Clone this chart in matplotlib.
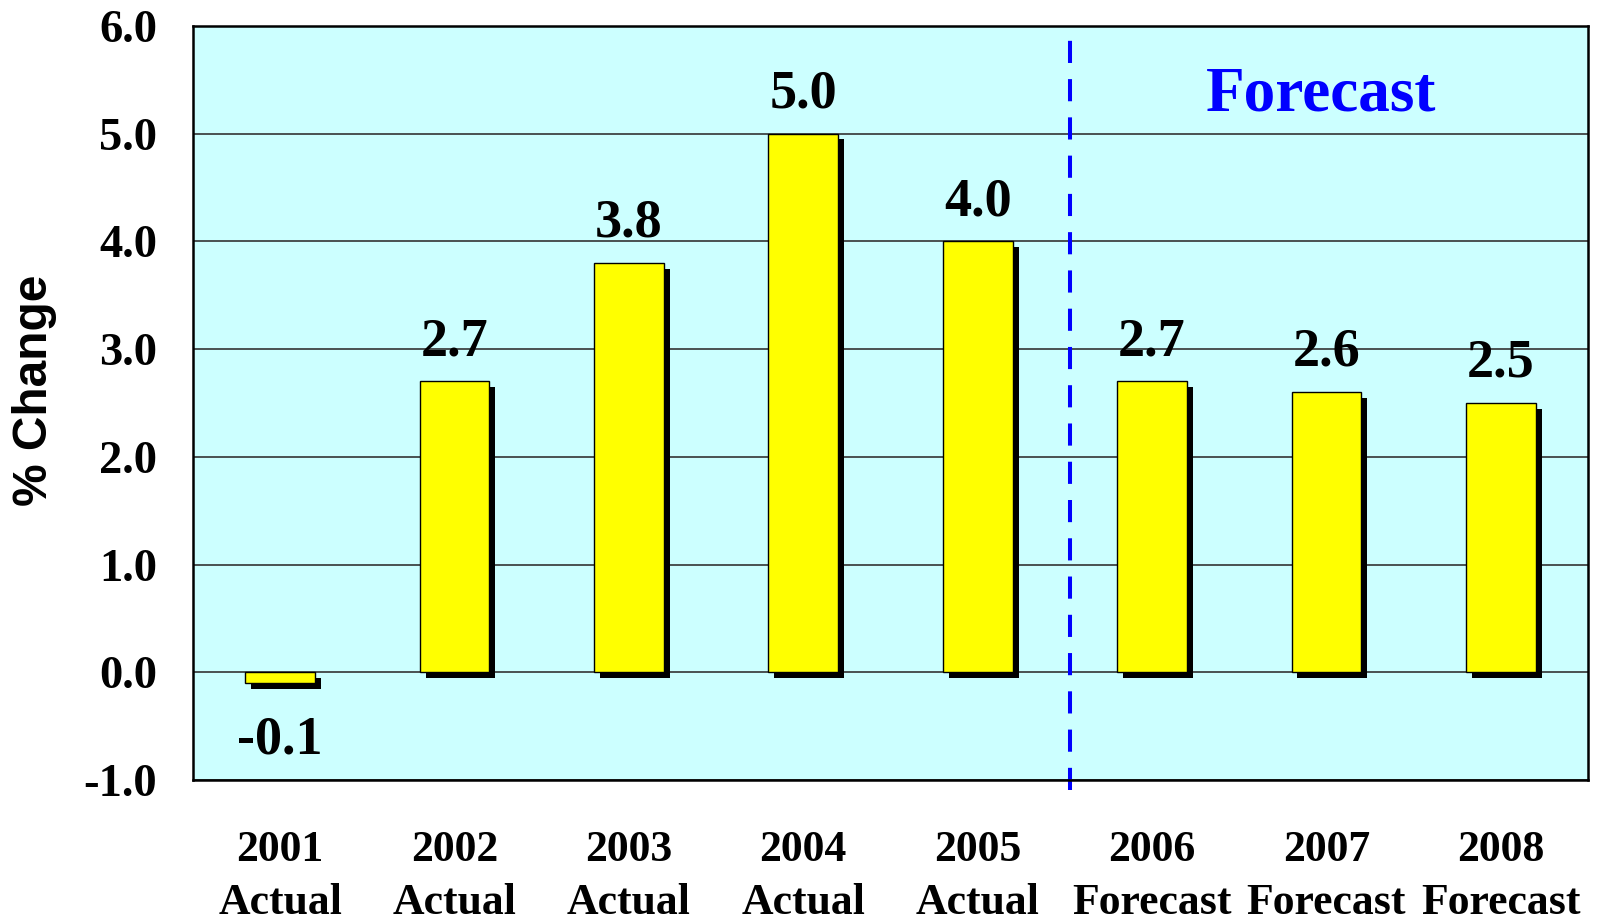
import matplotlib
matplotlib.use("Agg")
import matplotlib.pyplot as plt
import matplotlib.patheffects as pe

years = ["2001", "2002", "2003", "2004", "2005", "2006", "2007", "2008"]
kinds = ["Actual"] * 5 + ["Forecast"] * 3
values = [-0.1, 2.7, 3.8, 5.0, 4.0, 2.7, 2.6, 2.5]
yticks = [-1.0, 0.0, 1.0, 2.0, 3.0, 4.0, 5.0, 6.0]

serif = "Liberation Serif"

fig = plt.figure(figsize=(15.98, 9.23), dpi=100)
ax = fig.add_axes([0.1208, 0.1549, 0.8729, 0.8169])
ax.set_facecolor("#CCFFFF")

x = list(range(len(years)))
bars = ax.bar(x, values, width=0.40, color="#FFFF00", edgecolor="black",
              linewidth=1.0, zorder=3)
for b in bars:
    b.set_path_effects([pe.SimplePatchShadow(offset=(4.3, -4), shadow_rgbFace="black", alpha=1.0),
                        pe.Normal()])

# value labels above / below each bar
for xi, v in zip(x, values):
    if v >= 0:
        ax.annotate(f"{v:.1f}", (xi, v), xytext=(0, 19), textcoords="offset points",
                    ha="center", va="baseline", fontsize=39, fontweight="bold",
                    family=serif, zorder=5)
    else:
        ax.annotate(f"{v:.1f}", (xi, v), xytext=(0, -23), textcoords="offset points",
                    ha="center", va="top", fontsize=39, fontweight="bold",
                    family=serif, zorder=5)

ax.set_xlim(-0.5, len(years) - 0.5)
ax.set_ylim(-1.0, 6.0)

ax.set_yticks(yticks)
ax.set_yticklabels([f"{t:.1f}" for t in yticks], fontsize=33.5, fontweight="bold", family=serif)
ax.set_xticks(x)
ax.set_xticklabels([f"{y}\n{k}" for y, k in zip(years, kinds)], fontsize=31.5,
                   fontweight="bold", family=serif, linespacing=1.42)
ax.tick_params(axis="y", length=0, pad=26)
ax.tick_params(axis="x", length=0, pad=36)

ax.grid(axis="y", color="#333333", linewidth=1.2, zorder=1)
ax.set_axisbelow(True)
for s in ax.spines.values():
    s.set_linewidth(1.8)
    s.set_color("black")
    s.set_zorder(6)

ax.set_ylabel("% Change", fontsize=34.5, fontweight="bold", family="Liberation Sans")
ax.yaxis.set_label_coords(-0.0975, 0.517)

# split between actual and forecast years
ax.plot([4.53, 4.53], [-1.09, 6.0], color="#0000FF", linewidth=2.9,
        linestyle=(0, (5.5, 4)), clip_on=False, zorder=4)
ax.text(5.97, 5.22, "Forecast", color="#0000FF", fontsize=45.5, fontweight="bold",
        family=serif, ha="center", va="baseline", zorder=5)

fig.savefig("out.png", dpi=100)
